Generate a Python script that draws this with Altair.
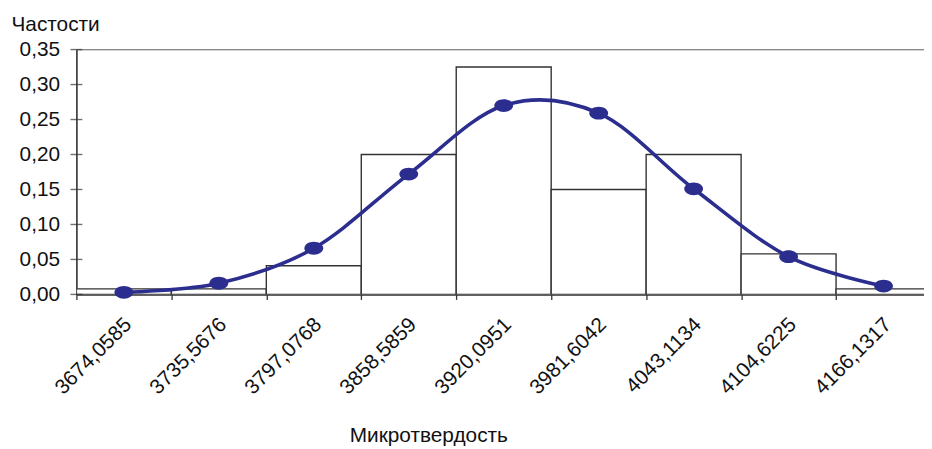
import json
import altair as alt
import pandas as pd

# Interval labels (category boundaries shown under each class)
labels = ["3674,0585", "3735,5676", "3797,0768", "3858,5859", "3920,0951",
          "3981,6042", "4043,1134", "4104,6225", "4166,1317"]
# Histogram relative frequencies (bars)
bar_freq = [0.008, 0.008, 0.041, 0.200, 0.325, 0.150, 0.200, 0.058, 0.008]
# Theoretical (smoothed) frequencies at class centres
curve_freq = [0.003, 0.016, 0.066, 0.172, 0.270, 0.259, 0.151, 0.054, 0.012]
# Y axis tick values
y_ticks = [0.0, 0.05, 0.10, 0.15, 0.20, 0.25, 0.30, 0.35]

n = len(labels)
bars = pd.DataFrame({"lo": list(range(n)), "hi": [i + 1 for i in range(n)], "f": bar_freq})
pts = pd.DataFrame({"c": [i + 0.5 for i in range(n)], "f": curve_freq})
yt = pd.DataFrame({"v": y_ticks})

FONT = "Liberation Sans"
FS = 21
AX = "#333333"
BLUE = "#2b2e8e"

xscale = alt.Scale(domain=[0, 8.926], nice=False, zero=False)
yscale = alt.Scale(domain=[0, 0.35], nice=False, zero=True)

label_expr = json.dumps(labels) + "[datum.value]"

x_axis = alt.Axis(
    values=list(range(n)), labelExpr=label_expr, labelAngle=315,
    labelAlign="right", labelBaseline="middle", labelOffset=52, labelPadding=22,
    tickSize=5, tickColor=AX, tickWidth=1.3, domainColor=AX, domainWidth=1.6,
    grid=False, title="Микротвердость", titleX=355, titleY=148,
    titleBaseline="alphabetic", titleAnchor="start", titleAlign="center",
    labelFont=FONT, labelFontSize=FS, labelColor="#111111",
    titleFont=FONT, titleFontSize=FS, titleFontWeight="normal", titleColor="#111111",
    labelOverlap=False, labelBound=False, labelFlush=False,
)
y_axis = alt.Axis(
    values=y_ticks, labelExpr="replace(format(datum.value, '.2f'), '.', ',')",
    ticks=False, labelPadding=17, domainColor=AX, domainWidth=1.6, grid=False,
    labelOverlap=False, labelBound=False, labelFlush=False,
    title="Частости", titleAngle=0, titleAlign="left", titleBaseline="alphabetic",
    titleX=-66, titleY=-19, titleAnchor="start",
    labelFont=FONT, labelFontSize=FS, labelColor="#111111",
    titleFont=FONT, titleFontSize=FS, titleFontWeight="normal", titleColor="#111111",
)

grid_top = alt.Chart(pd.DataFrame({"g": [y_ticks[-1]]})).mark_rule(
    color="#8a8a8a", strokeWidth=1.2
).encode(y=alt.Y("g:Q", scale=yscale, axis=y_axis))

bar_layer = alt.Chart(bars).mark_rect(
    fill="white", stroke=AX, strokeWidth=1.4, clip=True
).encode(
    x=alt.X("lo:Q", scale=xscale, axis=x_axis),
    x2="hi:Q",
    y=alt.Y("f:Q", scale=yscale, axis=y_axis),
    y2=alt.datum(0),
)

line_layer = alt.Chart(pts).mark_line(
    color=BLUE, strokeWidth=3.6, interpolate="cardinal"
).encode(x=alt.X("c:Q", scale=xscale, axis=x_axis),
         y=alt.Y("f:Q", scale=yscale, axis=y_axis))

ellipse = "M -1 0 A 1 0.68 0 1 0 1 0 A 1 0.68 0 1 0 -1 0 Z"
point_layer = alt.Chart(pts).mark_point(
    shape=ellipse, filled=True, color=BLUE, size=360, opacity=1
).encode(x=alt.X("c:Q", scale=xscale, axis=x_axis),
         y=alt.Y("f:Q", scale=yscale, axis=y_axis))

ytick_layer = alt.Chart(yt).mark_tick(
    orient="horizontal", size=12, thickness=1.4, color=AX
).encode(y=alt.Y("v:Q", scale=yscale, axis=y_axis), x=alt.value(0))

chart = alt.layer(grid_top, bar_layer, line_layer, point_layer, ytick_layer).properties(
    width=855, height=247,
    autosize=alt.AutoSizeParams(type="none"),
    padding={"left": 69, "top": 40, "right": 0, "bottom": 154},
).configure_view(stroke=None).configure(background="white")

chart.save("out.html", embed_options={"renderer": "svg", "actions": False})
